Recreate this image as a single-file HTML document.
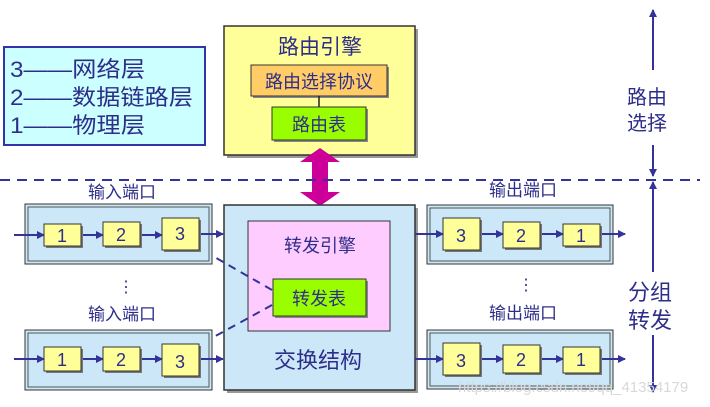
<!DOCTYPE html>
<html><head><meta charset="utf-8"><style>
html,body{margin:0;padding:0;background:#fff}
svg{display:block}
text{font-family:"Liberation Sans","Noto Sans CJK SC",sans-serif;fill:#2e2e8a}
</style></head><body>
<svg width="710" height="407" viewBox="0 0 710 407" xmlns="http://www.w3.org/2000/svg">
<defs>
<marker id="a" markerWidth="8" markerHeight="8" refX="7" refY="4" orient="auto" markerUnits="userSpaceOnUse"><path d="M0,0 L8,4 L0,8 z" fill="#333399"/></marker>
</defs>
<!-- legend -->
<rect x="4" y="47" width="201" height="98" fill="#ccffff" stroke="#3333aa" stroke-width="2"/>
<text x="10" y="77" font-size="22" textLength="135" lengthAdjust="spacingAndGlyphs">3——网络层</text>
<text x="10" y="105" font-size="22" textLength="183" lengthAdjust="spacingAndGlyphs">2——数据链路层</text>
<text x="10" y="133" font-size="22" textLength="135" lengthAdjust="spacingAndGlyphs">1——物理层</text>
<!-- routing engine -->
<rect x="227" y="29" width="191" height="129" fill="#999"/>
<rect x="224" y="26" width="191" height="129" fill="#ffff99" stroke="#333" stroke-width="1.5"/>
<text x="320" y="54" font-size="21" text-anchor="middle">路由引擎</text>
<rect x="253" y="67" width="136" height="31" fill="#888"/>
<rect x="251" y="65" width="136" height="31" fill="#ffcc66" stroke="#333"/>
<text x="319" y="88" font-size="18" text-anchor="middle">路由选择协议</text>
<line x1="319" y1="96" x2="319" y2="107" stroke="#222" stroke-width="1.5"/>
<rect x="274" y="109" width="94" height="33" fill="#888"/>
<rect x="272" y="107" width="94" height="33" fill="#99ff00" stroke="#333"/>
<text x="319" y="131" font-size="18" text-anchor="middle">路由表</text>
<!-- magenta arrow -->
<path d="M320,148 L340,162 L328,162 L328,192 L340,192 L320,206 L300,192 L312,192 L312,162 L300,162 Z" fill="#cc0099"/>
<!-- dashed divider -->
<line x1="0" y1="180" x2="700" y2="180" stroke="#333399" stroke-width="2" stroke-dasharray="10,7"/>
<!-- right arrows -->
<line x1="653" y1="70" x2="653" y2="10" stroke="#333399" stroke-width="2" marker-end="url(#a)"/>
<line x1="653" y1="145" x2="653" y2="176" stroke="#333399" stroke-width="2" marker-end="url(#a)"/>
<text x="647" y="104" font-size="20" text-anchor="middle">路由</text>
<text x="647" y="130" font-size="20" text-anchor="middle">选择</text>
<line x1="653" y1="272" x2="653" y2="182" stroke="#333399" stroke-width="2" marker-end="url(#a)"/>
<line x1="653" y1="335" x2="653" y2="392" stroke="#333399" stroke-width="2" marker-end="url(#a)"/>
<text x="650" y="300" font-size="22" text-anchor="middle">分组</text>
<text x="650" y="328" font-size="22" text-anchor="middle">转发</text>
<!-- switch fabric -->
<rect x="227" y="208" width="191" height="185" fill="#999"/>
<rect x="224" y="205" width="191" height="185" fill="#cce8f8" stroke="#333" stroke-width="1.5"/>
<rect x="248" y="221" width="142" height="110" fill="#ffccff" stroke="#333"/>
<text x="320" y="252" font-size="18" text-anchor="middle">转发引擎</text>
<rect x="275" y="281" width="93" height="37" fill="#888"/>
<rect x="273" y="279" width="93" height="37" fill="#99ff00" stroke="#333"/>
<text x="319" y="305" font-size="18" text-anchor="middle">转发表</text>
<text x="318" y="368" font-size="22" text-anchor="middle">交换结构</text>
<!-- dashed links -->
<line x1="272" y1="290" x2="190" y2="243" stroke="#333399" stroke-width="2" stroke-dasharray="8,6" marker-end="url(#a)"/>
<line x1="272" y1="305" x2="190" y2="350" stroke="#333399" stroke-width="2" stroke-dasharray="8,6" marker-end="url(#a)"/>
<!-- input ports -->
<g>
<text x="122" y="198" font-size="17" text-anchor="middle">输入端口</text>
<rect x="25" y="204" width="187" height="60" fill="#cce8f8" stroke="#333" stroke-width="1"/>
<rect x="28" y="207" width="181" height="54" fill="none" stroke="#555" stroke-width="1"/>
<line x1="14" y1="235" x2="44" y2="235" stroke="#333399" stroke-width="2" marker-end="url(#a)"/>
<line x1="82" y1="235" x2="103" y2="235" stroke="#333399" stroke-width="2" marker-end="url(#a)"/>
<line x1="141" y1="235" x2="162" y2="235" stroke="#333399" stroke-width="2" marker-end="url(#a)"/>
<line x1="200" y1="234" x2="223" y2="234" stroke="#333399" stroke-width="2" marker-end="url(#a)"/>
<rect x="46" y="226" width="37" height="22" fill="#777"/><rect x="44" y="224" width="37" height="22" fill="#ffff99" stroke="#333"/><text x="62" y="242" font-size="18" text-anchor="middle">1</text>
<rect x="105" y="224" width="37" height="24" fill="#777"/><rect x="103" y="222" width="37" height="24" fill="#ffff99" stroke="#333"/><text x="121" y="241" font-size="18" text-anchor="middle">2</text>
<rect x="164" y="220" width="37" height="32" fill="#777"/><rect x="162" y="218" width="37" height="32" fill="#ffff99" stroke="#333"/><text x="180" y="240" font-size="18" text-anchor="middle">3</text>
</g>
<text x="126" y="292" font-size="16" text-anchor="middle">⋮</text>
<g transform="translate(0,126)">
<text x="122" y="194" font-size="17" text-anchor="middle">输入端口</text>
<rect x="25" y="204" width="187" height="60" fill="#cce8f8" stroke="#333" stroke-width="1"/>
<rect x="28" y="207" width="181" height="54" fill="none" stroke="#555" stroke-width="1"/>
<line x1="14" y1="233" x2="44" y2="233" stroke="#333399" stroke-width="2" marker-end="url(#a)"/>
<line x1="82" y1="233" x2="103" y2="233" stroke="#333399" stroke-width="2" marker-end="url(#a)"/>
<line x1="141" y1="233" x2="162" y2="233" stroke="#333399" stroke-width="2" marker-end="url(#a)"/>
<line x1="200" y1="233" x2="223" y2="233" stroke="#333399" stroke-width="2" marker-end="url(#a)"/>
<rect x="46" y="223" width="37" height="24" fill="#777"/><rect x="44" y="221" width="37" height="24" fill="#ffff99" stroke="#333"/><text x="62" y="240" font-size="18" text-anchor="middle">1</text>
<rect x="105" y="223" width="37" height="24" fill="#777"/><rect x="103" y="221" width="37" height="24" fill="#ffff99" stroke="#333"/><text x="121" y="240" font-size="18" text-anchor="middle">2</text>
<rect x="164" y="220" width="37" height="32" fill="#777"/><rect x="162" y="218" width="37" height="32" fill="#ffff99" stroke="#333"/><text x="180" y="242" font-size="18" text-anchor="middle">3</text>
</g>
<!-- output ports -->
<g>
<text x="523" y="196" font-size="17" text-anchor="middle">输出端口</text>
<rect x="427" y="205" width="186" height="59" fill="#cce8f8" stroke="#333" stroke-width="1"/>
<rect x="430" y="208" width="180" height="53" fill="none" stroke="#555" stroke-width="1"/>
<line x1="415" y1="234" x2="443" y2="234" stroke="#333399" stroke-width="2" marker-end="url(#a)"/>
<line x1="481" y1="234" x2="503" y2="234" stroke="#333399" stroke-width="2" marker-end="url(#a)"/>
<line x1="541" y1="234" x2="563" y2="234" stroke="#333399" stroke-width="2" marker-end="url(#a)"/>
<line x1="601" y1="234" x2="625" y2="234" stroke="#333399" stroke-width="2" marker-end="url(#a)"/>
<rect x="445" y="220" width="37" height="32" fill="#777"/><rect x="443" y="218" width="37" height="32" fill="#ffff99" stroke="#333"/><text x="461" y="242" font-size="18" text-anchor="middle">3</text>
<rect x="505" y="224" width="37" height="26" fill="#777"/><rect x="503" y="222" width="37" height="26" fill="#ffff99" stroke="#333"/><text x="521" y="242" font-size="18" text-anchor="middle">2</text>
<rect x="565" y="226" width="37" height="22" fill="#777"/><rect x="563" y="224" width="37" height="22" fill="#ffff99" stroke="#333"/><text x="581" y="242" font-size="18" text-anchor="middle">1</text>
</g>
<text x="526" y="290" font-size="16" text-anchor="middle">⋮</text>
<g transform="translate(0,125)">
<text x="523" y="194" font-size="17" text-anchor="middle">输出端口</text>
<rect x="427" y="205" width="186" height="59" fill="#cce8f8" stroke="#333" stroke-width="1"/>
<rect x="430" y="208" width="180" height="53" fill="none" stroke="#555" stroke-width="1"/>
<line x1="415" y1="234" x2="443" y2="234" stroke="#333399" stroke-width="2" marker-end="url(#a)"/>
<line x1="481" y1="234" x2="503" y2="234" stroke="#333399" stroke-width="2" marker-end="url(#a)"/>
<line x1="541" y1="234" x2="563" y2="234" stroke="#333399" stroke-width="2" marker-end="url(#a)"/>
<line x1="601" y1="234" x2="625" y2="234" stroke="#333399" stroke-width="2" marker-end="url(#a)"/>
<rect x="445" y="220" width="37" height="32" fill="#777"/><rect x="443" y="218" width="37" height="32" fill="#ffff99" stroke="#333"/><text x="461" y="242" font-size="18" text-anchor="middle">3</text>
<rect x="505" y="222" width="37" height="28" fill="#777"/><rect x="503" y="220" width="37" height="28" fill="#ffff99" stroke="#333"/><text x="521" y="241" font-size="18" text-anchor="middle">2</text>
<rect x="565" y="224" width="37" height="26" fill="#777"/><rect x="563" y="222" width="37" height="26" fill="#ffff99" stroke="#333"/><text x="581" y="241" font-size="18" text-anchor="middle">1</text>
</g>
<text x="458" y="392" font-size="15" style="fill:#d8d8d8">https://blog.csdn.net/qq_41354179</text>
</svg>
</body></html>
